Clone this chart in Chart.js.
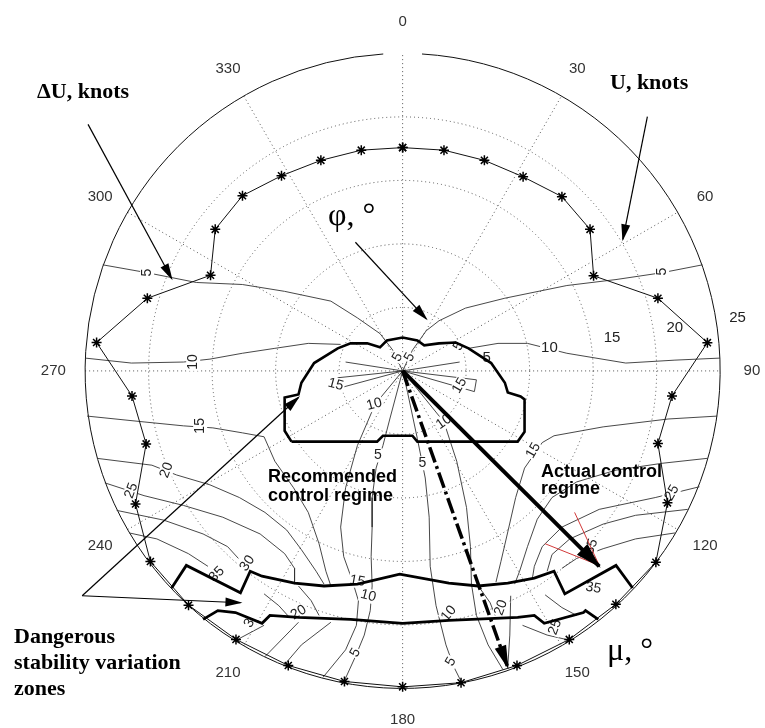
<!DOCTYPE html>
<html>
<head>
<meta charset="utf-8">
<script src="https://cdn.jsdelivr.net/npm/chart.js@4.4.1/dist/chart.umd.min.js"></script>
<style>
  html, body { margin: 0; background: #fff; }
  #wrap { width: 765px; height: 728px; position: relative; }
</style>
</head>
<body>
<div id="wrap"><canvas id="c"></canvas></div>
<script>
/* Polar diagram: U (knots) vs heading, ΔU contours, control regimes. Units: knots, east/north. */
const R_MAX = 25;
const ringValues = [5, 10, 15, 20];
const radialTicks = [5, 10, 15, 20, 25];
const angleTicks = [0, 30, 60, 90, 120, 150, 180, 210, 240, 270, 300, 330];

// U curve, heading (deg, clockwise from north) and speed (knots)
const uHeading = [0, 10.6, 21.2, 31.8, 42.4, 52.9, 63.5, 74.1, 84.7, 95.3, 105.9, 116.5, 127.1, 137.6, 148.2, 158.8, 169.4,
  180, 190.6, 201.2, 211.8, 222.4, 232.9, 243.5, 254.1, 264.7, 275.3, 285.9, 296.5, 307.1, 317.6, 328.2, 338.8, 349.4];
const uSpeed = [17.6, 17.7, 17.8, 18.0, 18.6, 18.5, 16.8, 20.9, 24.1, 21.3, 20.9, 23.3, 25.0, 24.9, 24.9, 24.9, 25.0,
  24.9, 24.9, 24.9, 24.9, 25.0, 24.9, 23.5, 21.0, 21.4, 24.2, 20.9, 16.9, 18.5, 18.7, 18.1, 17.8, 17.7];

// ΔU contour lines, [east, north] knots
const c5Upper = [[-23.61,8.36],[-20.12,7.74],[-16.25,6.97],[-12.62,6.81],[-9.29,6.27],[-5.65,5.50],[-3.56,4.18],[-1.78,2.94],[-0.77,1.63],[0,0],
  [0.77,1.63],[1.86,3.17],[2.86,3.95],[4.95,4.95],[8.05,5.73],[12.93,6.73],[16.80,7.20],[20.43,7.74],[23.61,8.36]];
const c10Left = [[-24.98,1.01],[-21.36,0.62],[-17.26,0.70],[-15.17,0.93],[-12.62,1.39],[-10.06,1.78],[-7.43,2.17],[-4.88,2.09]];
const c10Right = [[5.19,1.78],[7.51,2.17],[9.83,2.17],[12.93,1.39],[17.57,0.62],[21.44,0.85],[24.98,1.01]];
const cInnerL = [[0,0],[-4.49,0.70]];
const cInnerR = [[0,0],[4.49,0.70]];
const c15LoopL = [[0,0],[-5.11,-0.54],[-5.42,-1.47],[0,0]];
const c15LoopR = [[0,0],[5.81,-0.70],[5.65,-1.63],[0,0]];
const c5DownL = [[0,0],[-1.01,-3.79],[-1.55,-5.88],[-2.09,-7.66],[-2.40,-9.98],[-2.40,-12.31],[-2.48,-14.63],[-2.40,-16.95],[-2.55,-18.89],[-3.02,-20.82],[-3.72,-22.52],[-4.64,-24.54]];
const c5DownR = [[0,0],[0.39,-1.70],[1.16,-5.34],[1.78,-8.44],[2.09,-11.53],[2.17,-15.40],[2.63,-18.50],[3.41,-21.59],[4.02,-23.30],[4.64,-24.54]];
const c10DownL = [[0,0],[-2.17,-2.63],[-3.56,-5.88],[-4.49,-9.21],[-4.88,-12.31],[-4.64,-14.63],[-3.95,-16.56],[-3.48,-18.11],[-3.64,-20.05],[-4.49,-21.98],[-6.27,-24.15]];
const c10DownR = [[0,0],[3.25,-4.02],[4.26,-7.12],[5.03,-10.76],[5.34,-13.85],[5.42,-16.80],[5.81,-19.27],[6.73,-21.59],[7.89,-23.53]];
const c15L = [[-24.85,-3.56],[-20.36,-4.02],[-17.26,-4.33],[-14.94,-4.49],[-12.62,-4.88],[-10.91,-5.19],[-10.06,-7.12],[-8.59,-9.21],[-7.43,-11.15],[-6.58,-13.62],[-6.04,-15.79],[-5.65,-16.95]];
const c20L = [[-24.07,-6.89],[-19.74,-7.43],[-17.80,-8.20],[-15.17,-8.98],[-12.85,-9.98],[-10.84,-11.15],[-9.13,-12.54],[-7.97,-14.09],[-6.81,-15.79],[-6.19,-16.80]];
const c25L = [[-23.45,-8.82],[-20.36,-9.83],[-17.26,-10.60],[-14.16,-11.53],[-11.22,-12.85],[-9.29,-14.40],[-8.51,-15.56],[-8.51,-16.80]];
const c30L = [[-22.52,-10.99],[-18.81,-11.76],[-15.71,-12.85],[-13.78,-13.85],[-12.93,-14.78]];
const c35L = [[-21.52,-12.77],[-19.35,-13.24],[-16.87,-14.40],[-15.33,-15.40]];
const c15R = [[24.77,-3.56],[20.90,-3.79],[15.79,-4.41],[11.92,-5.11],[10.99,-5.65],[9.60,-7.66],[8.90,-9.98],[8.28,-12.69],[7.74,-15.02],[7.35,-16.64]];
const c20R = [[23.99,-6.89],[20.43,-7.28],[16.80,-7.82],[13.70,-8.75],[11.76,-9.98],[10.60,-11.69],[9.83,-13.85],[9.21,-15.79],[8.82,-16.80]];
const c25R = [[23.37,-9.13],[19.89,-9.98],[15.48,-10.91],[12.54,-12.31],[10.99,-13.85],[10.37,-15.40],[10.22,-16.33]];
const c30R = [[22.45,-10.91],[18.34,-11.38],[15.79,-12.07],[13.16,-13.24],[11.76,-14.47],[11.38,-15.79]];
const c35R = [[21.44,-12.77],[18.34,-13.24],[15.79,-14.01],[13.70,-14.78],[12.54,-15.56]];
const cLowL1 = [[-10.91,-20.05],[-13.08,-21.21]];
const cLowL2 = [[-8.20,-19.81],[-10.84,-22.52]];
const cLowL3 = [[-5.65,-19.81],[-7.97,-21.59],[-9.29,-23.14]];
const cMidL1 = [[-10.91,-17.57],[-9.75,-18.50],[-8.98,-19.35]];
const cMidL2 = [[-8.20,-16.95],[-7.20,-18.11],[-6.58,-19.27]];
const cLowR1 = [[8.51,-17.72],[8.44,-20.82],[8.28,-23.30]];
const cLowR2 = [[9.44,-20.05],[11.38,-20.82],[13.08,-21.21]];
const cMidR1 = [[5.96,-16.95],[6.89,-18.27],[7.28,-19.27]];
const cMidR2 = [[11.22,-17.65],[12.54,-18.65],[13.70,-19.27]];
const contours = [c5Upper, c10Left, c10Right, cInnerL, cInnerR, c15LoopL, c15LoopR, c5DownL, c5DownR, c10DownL, c10DownR,
  c15L, c20L, c25L, c30L, c35L, c15R, c20R, c25R, c30R, c35R, cLowL1, cLowL2, cLowL3, cMidL1, cMidL2, cLowR1, cLowR2, cMidR1, cMidR2];

// contour labels: text, east, north, rotation
const contourLabels = [
  ["5",-20.12,7.74,-90], ["5",20.43,7.82,-90], ["10",-16.49,0.70,-90], ["15",-15.94,-4.33,-90], ["20",-18.58,-7.82,-70],
  ["25",-21.36,-9.44,-70], ["30",-12.23,-15.17,-55], ["35",-14.63,-16.02,-45], ["10",-2.24,-2.63,-15], ["5",-1.94,-6.66,0],
  ["5",1.55,-7.28,0], ["10",3.25,-4.02,-35], ["15",-5.26,-1.08,15], ["15",4.49,-1.16,-60], ["5",-0.39,1.08,-60],
  ["5",0.54,1.08,-60], ["5",4.41,1.94,-60], ["15",10.29,-6.27,-60], ["25",21.21,-9.60,-60], ["35",14.86,-13.85,-70],
  ["35",15.02,-17.11,10], ["15",-3.56,-16.56,10], ["10",-2.71,-17.72,15], ["20",-8.20,-19.04,-30], ["3",-12.07,-19.89,-60],
  ["5",-3.72,-22.21,-60], ["5",3.79,-22.91,-60], ["10",3.64,-19.12,-50], ["20",7.74,-18.65,-70], ["25",12.00,-20.20,-70]
];

// regime boundaries
const recommendedZone = [[-8.75,-5.57],[-9.29,-4.72],[-9.29,-2.09],[-8.20,-1.86],[-7.97,-0.93],[-6.97,0.62],[-5.11,1.78],[-4.10,2.17],
  [-2.79,2.17],[-1.78,1.86],[-1.24,2.40],[0,2.63],[1.16,2.40],[1.70,2.01],[2.86,2.17],[4.18,2.24],[5.19,1.78],[6.97,0.62],
  [8.05,-0.93],[8.28,-1.70],[9.29,-2.01],[9.60,-2.24],[9.60,-4.80],[9.06,-5.57],[1.16,-5.57],[0.77,-5.11],[-1.55,-5.11],[-2.01,-5.57],[-8.75,-5.57]];
const dangerUpper = [[-18.19,-17.11],[-17.03,-15.33],[-12.77,-17.49],[-12.00,-15.79],[-11.07,-16.18],[-8.51,-16.72],[-6.19,-16.95],
  [-3.56,-16.80],[-0.23,-16.02],[3.64,-16.72],[5.96,-16.95],[8.28,-16.72],[10.37,-16.33],[11.92,-15.79],[12.77,-17.57],[16.80,-15.33],[18.11,-17.11]];
const dangerLower = [[-15.71,-19.58],[-14.55,-18.89],[-13.16,-19.04],[-11.07,-19.89],[-10.45,-19.27],[-8.20,-19.43],[-4.10,-19.58],
  [0,-19.89],[3.64,-19.66],[9.06,-19.43],[10.37,-19.27],[11.15,-19.89],[14.24,-19.04],[14.40,-18.89],[15.40,-19.58]];

// control vectors and callouts
const actualRegime = [[0,0],[15.48,-15.40]];
const recommendedRegime = [[0,0],[8.28,-23.37]];
const redMarks = [[[11.22,-13.62],[15.48,-15.33]], [[13.54,-11.15],[15.48,-15.33]]];
const callouts = [
  [[-24.77,19.43],[-18.19,7.28]],
  [[19.27,20.05],[17.34,10.37]],
  [[-3.72,10.14],[1.86,4.10]],
  [[-25.23,-17.72],[-8.20,-2.09]],
  [[-25.23,-17.72],[-12.77,-18.27]]
];

const rad = d => d * Math.PI / 180;
const toXY = (b, r) => ({ x: r * Math.sin(rad(b)), y: r * Math.cos(rad(b)) });
const pts = arr => arr.map(p => ({ x: p[0], y: p[1] }));

const line = (data, o) => Object.assign({ data: pts(data), showLine: true, pointRadius: 0, borderColor: "#222",
  borderWidth: 1, tension: 0, fill: false, clip: false }, o);

const datasets = [];
contours.forEach((c, i) => datasets.push(line(c, { order: 10, borderColor: "#333", borderWidth: 0.9, drawLabels: i === 0 })));
datasets.push({ data: uHeading.concat([uHeading[0]]).map((h, i) => toXY(h, uSpeed[i % uSpeed.length])), showLine: true,
  borderColor: "#111", borderWidth: 1, pointStyle: "star", pointRadius: 5, pointBorderWidth: 1.5, pointBorderColor: "#000",
  tension: 0, clip: false, order: 5 });
datasets.push(line(recommendedZone, { order: 4, borderColor: "#000", borderWidth: 2.6 }));
datasets.push(line(dangerUpper, { order: 4, borderColor: "#000", borderWidth: 2.8 }));
datasets.push(line(dangerLower, { order: 4, borderColor: "#000", borderWidth: 2.8 }));
redMarks.forEach(m => datasets.push(line(m, { order: 3, borderColor: "#d23a3a", borderWidth: 1 })));
callouts.forEach(c => datasets.push(line(c, { order: 2, borderColor: "#000", borderWidth: 1.2, head: [15, 9] })));
datasets.push(line(recommendedRegime, { order: 1, borderColor: "#000", borderWidth: 3.5, borderDash: [16, 4, 3, 4], head: [22, 12] }));
datasets.push(line(actualRegime, { order: 1, borderColor: "#000", borderWidth: 4, head: [24, 15] }));

function label(ctx, txt, x, y, rot, bg) {
  ctx.save();
  ctx.translate(x, y);
  ctx.rotate(rad(rot));
  const w = ctx.measureText(txt).width;
  if (bg) { ctx.fillStyle = "#fff"; ctx.fillRect(-w / 2 - 1, -7, w + 2, 14); }
  ctx.fillStyle = "#222";
  ctx.fillText(txt, 0, 0);
  ctx.restore();
}

const polarGrid = {
  id: "polarGrid",
  beforeDatasetsDraw(chart) {
    const { ctx, scales: { x: sx, y: sy } } = chart;
    const cx = sx.getPixelForValue(0), cy = sy.getPixelForValue(0);
    const rp = v => sx.getPixelForValue(v) - cx;
    ctx.save();
    ctx.strokeStyle = "#555"; ctx.lineWidth = 1; ctx.setLineDash([1, 3]);
    ringValues.forEach(v => { ctx.beginPath(); ctx.arc(cx, cy, rp(v), 0, 2 * Math.PI); ctx.stroke(); });
    angleTicks.filter(a => a < 180).forEach(a => {
      const p = toXY(a, R_MAX);
      ctx.beginPath();
      ctx.moveTo(sx.getPixelForValue(-p.x), sy.getPixelForValue(-p.y));
      ctx.lineTo(sx.getPixelForValue(p.x), sy.getPixelForValue(p.y));
      ctx.stroke();
    });
    // outer circle, open a little at the top as in the source plot
    ctx.setLineDash([]); ctx.strokeStyle = "#111";
    ctx.beginPath(); ctx.arc(cx, cy, rp(R_MAX), rad(-86.5), rad(266.5)); ctx.stroke();
    ctx.fillStyle = "#333"; ctx.font = '15px "Liberation Sans", Arial, sans-serif';
    ctx.textAlign = "center"; ctx.textBaseline = "middle";
    angleTicks.forEach(a => {
      const p = toXY(a, R_MAX * 1.1);
      ctx.fillText(String(a), sx.getPixelForValue(p.x), sy.getPixelForValue(p.y));
    });
    ctx.restore();
  },
  afterDatasetDraw(chart, args) {
    if (!chart.data.datasets[args.index].drawLabels) return;
    const { ctx, scales: { x: sx, y: sy } } = chart;
    ctx.save();
    ctx.textAlign = "center"; ctx.textBaseline = "middle";
    ctx.font = '14px "Liberation Sans", Arial, sans-serif';
    contourLabels.forEach(([t, e, n, r]) => label(ctx, t, sx.getPixelForValue(e), sy.getPixelForValue(n), r, true));
    ctx.font = '15px "Liberation Sans", Arial, sans-serif';
    radialTicks.forEach(v => {
      const p = toXY(81, v + 1.7);
      label(ctx, String(v), sx.getPixelForValue(p.x), sy.getPixelForValue(p.y), 0, true);
    });
    ctx.restore();
  },
  afterDatasetsDraw(chart) {
    const ctx = chart.ctx;
    chart.data.datasets.forEach((ds, i) => {
      if (!ds.head) return;
      const d = chart.getDatasetMeta(i).data;
      const a = d[d.length - 2], b = d[d.length - 1];
      const ang = Math.atan2(b.y - a.y, b.x - a.x), [L, W] = ds.head;
      const bx = b.x - L * Math.cos(ang), by = b.y - L * Math.sin(ang);
      ctx.save();
      ctx.fillStyle = "#000";
      ctx.beginPath();
      ctx.moveTo(b.x + Math.cos(ang) * 2, b.y + Math.sin(ang) * 2);
      ctx.lineTo(bx + W / 2 * Math.sin(ang), by - W / 2 * Math.cos(ang));
      ctx.lineTo(bx - W / 2 * Math.sin(ang), by + W / 2 * Math.cos(ang));
      ctx.closePath(); ctx.fill();
      ctx.restore();
    });
  },
  afterDraw(chart) {
    const ctx = chart.ctx;
    ctx.save();
    ctx.fillStyle = "#000"; ctx.textAlign = "left"; ctx.textBaseline = "alphabetic";
    ctx.font = 'bold 22px "Liberation Serif", "Times New Roman", serif';
    ctx.fillText("ΔU, knots", 37, 98);
    ctx.fillText("U, knots", 610, 89);
    ctx.fillText("Dangerous", 14, 643);
    ctx.fillText("stability variation", 14, 669);
    ctx.fillText("zones", 14, 695);
    ctx.font = '32px "Liberation Serif", "Times New Roman", serif';
    ctx.fillText("φ, °", 328, 225);
    ctx.fillText("μ, °", 607, 660);
    ctx.font = 'bold 18px "Liberation Sans", Arial, sans-serif';
    ctx.fillText("Recommended", 268, 482);
    ctx.fillText("control regime", 268, 501);
    ctx.fillText("Actual control", 541, 477);
    ctx.fillText("regime", 541, 494);
    ctx.restore();
  }
};

// axis limits put the pole at (403, 371) px with 25 knots = 323 px
new Chart(document.getElementById("c"), {
  type: "scatter",
  data: { datasets },
  options: {
    responsive: true, maintainAspectRatio: false, animation: false, events: [],
    layout: { padding: 0 },
    plugins: { legend: { display: false }, tooltip: { enabled: false } },
    scales: {
      x: { type: "linear", display: false, min: -31.19, max: 28.02 },
      y: { type: "linear", display: false, min: -27.63, max: 28.72 }
    }
  },
  plugins: [polarGrid]
});
</script>
</body>
</html>
